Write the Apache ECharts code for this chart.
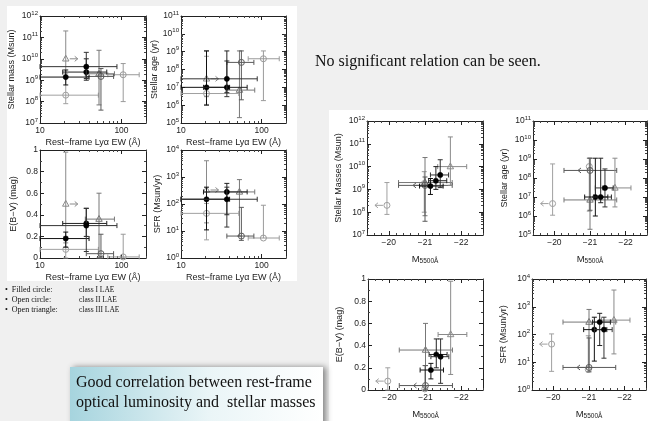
<!DOCTYPE html>
<html><head><meta charset="utf-8">
<script src="https://cdn.jsdelivr.net/npm/echarts@6/dist/echarts.min.js"></script>
<style>html,body{margin:0;padding:0;background:#f0f0f0}#c{width:648px;height:421px}</style>
</head><body><div id="c"></div>
<script>
// ---- objects (drawing order: faint first, filled last) ----
const objNames = ['C1','C3','T2','C2','T1','F1','F2','F3'];
const objClass = ['open','open','tri','open','tri','filled','filled','filled'];
const objColor = ['#a0a0a0','#9a9a9a','#777777','#5a5a5a','#8a8a8a','#111111','#222222','#333333'];

// rest-frame Lya EW (A)
const ewVal = [20.7, 105, 53, 56, 20.7, 20.7, 37, 37];
const ewLo  = [10, 68, 36, 37, null, 10, 19, 10];
const ewHi  = [52, 165, 82, 80, null, 40, 66, 88];
const ewArrow = [0,0,0,0,1,0,0,0];          // lower limit (arrow to the right)

// M5500A
const magVal = [-19.95, -20.98, -21.0, -21.0, -21.7, -21.15, -21.3, -21.42];
const magLo  = [null, null, -20.27, -20.27, -21.35, -20.85, -21.1, -21.15];
const magHi  = [null, null, -21.75, -21.75, -22.15, -21.5, -21.6, -21.65];
const magArrow = [1,0,0,1,0,0,0,0];         // limit (arrow to the left, fainter)

// stellar mass (Msun)
const massVal = [2e8, 1.8e9, 2e9, 1.5e9, 1e10, 1.4e9, 2.4e9, 4.3e9];
const massLo  = [8e7, 1e8, 7e7, 4e7, 1.5e9, 6e8, 1e9, 1.2e9];
const massHi  = [2e9, 6e9, 2.5e10, 3.5e9, 2e11, 3e9, 1e10, 2e10];

// stellar age (yr)
const ageVal = [4.5e6, 4e8, 7e6, 2.5e8, 3e7, 1e7, 1e7, 3e7];
const ageLo  = [1.1e6, 1.8e6, 2e5, 2e6, 3e6, 1e6, 5e6, 3e6];
const ageHi  = [5.5e8, 1.1e9, 1.1e9, 1.1e9, 1.1e9, 1.1e9, 1.1e9, 3e8];

// E(B-V) (mag)
const ebvVal = [0.08, 0.01, 0.36, 0.04, 0.5, 0.18, 0.32, 0.30];
const ebvLo  = [0, 0, 0, 0, 0.14, 0.1, 0.2, 0.06];
const ebvHi  = [0.2, 0.22, 0.6, 0.22, 0.98, 0.24, 0.46, 0.46];

// SFR (Msun/yr)
const sfrVal = [45, 5.5, 280, 6.5, 330, 150, 280, 150];
const sfrLo  = [4.7, null, 6.5, 4.5, 20, 11, 40, 14];
const sfrHi  = [105, 90, 800, 75, 4000, 420, 580, 420];

// axis ticks
const ewTicks = [10, 100];
const ewMinor = [20,30,40,50,60,70,80,90,200];
const magTicks = [-20, -21, -22];
const magMinor = [-19.4,-19.6,-19.8,-20.2,-20.4,-20.6,-20.8,-21.2,-21.4,-21.6,-21.8,-22.2,-22.4,-22.6];
const massTicks = [1e7,1e8,1e9,1e10,1e11,1e12];
const ageTicks = [1e5,1e6,1e7,1e8,1e9,1e10,1e11];
const sfrTicks = [1,10,100,1000,10000];
const ebvTicks = [0,0.2,0.4,0.6,0.8,1];
const ebvMinor = [0.1,0.3,0.5,0.7,0.9];

function logMinor(lo, hi){ const out=[]; for(let e=Math.round(Math.log10(lo)); e<Math.round(Math.log10(hi)); e++){ for(let k=2;k<=9;k++) out.push(k*Math.pow(10,e)); } return out; }

const FONT = 'Liberation Sans';
const powFmt = v => { const e = Math.round(Math.log10(v)); return '{b|10}{s|' + e + '}'; };
const powRich = { b:{fontSize:8.5, fontFamily:FONT, color:'#222'}, s:{fontSize:6, fontFamily:FONT, color:'#222', verticalAlign:'top', padding:[0,0,6,0]} };
const magFmt = v => String(v).replace('-', '\u2212');
const ebvFmt = v => (v===0 ? '0' : v===1 ? '1' : v.toFixed(1));
const magName = '{m|M}{s|5500\u00c5}';
const magNameRich = { m:{fontSize:9.5, fontFamily:FONT, color:'#222'}, s:{fontSize:6.5, fontFamily:FONT, color:'#222', verticalAlign:'bottom', padding:[5,0,0,0]} };

const specs = {
  ew:  {type:'log', min:10, max:200, majors:ewTicks, minors:ewMinor, fmt:v=>String(v), name:'Rest\u2212frame Ly\u03b1 EW (\u00c5)', nameGap:15},
  mag: {type:'value', min:-22.6, max:-19.4, inverse:true, majors:magTicks, minors:magMinor, fmt:magFmt, name:magName, rich:magNameRich, nameGap:18},
  mass:{type:'log', min:1e7, max:1e12, majors:massTicks, minors:logMinor(1e7,1e12), fmt:powFmt, labelRich:powRich},
  age: {type:'log', min:1e5, max:1e11, majors:ageTicks, minors:logMinor(1e5,1e11), fmt:powFmt, labelRich:powRich},
  sfr: {type:'log', min:1, max:1e4, majors:sfrTicks, minors:logMinor(1,1e4), fmt:powFmt, labelRich:powRich},
  ebv: {type:'value', min:0, max:1, majors:ebvTicks, minors:ebvMinor, fmt:ebvFmt}
};

const grids=[], xAxes=[], yAxes=[], series=[];

function axisSet(dim, gi, spec, name, nameGap) {
  const arr = [];
  const positions = dim==='x' ? ['bottom','top'] : ['left','right'];
  positions.forEach((pos, k) => {
    arr.push({
      gridIndex: gi, type: spec.type, position: pos, min: spec.min, max: spec.max, inverse: !!spec.inverse,
      axisLine: {show:true, onZero:false, lineStyle:{color:'#222', width:1}},
      axisTick: {show:true, inside:true, length:4, customValues: spec.majors, lineStyle:{color:'#222', width:1}},
      axisLabel: k===0 ? {show:true, customValues: spec.majors, formatter: spec.fmt, rich: spec.labelRich, fontFamily:FONT, fontSize:8.5, color:'#222', margin: dim==='x'?3:2} : {show:false},
      splitLine: {show:false},
      name: k===0 ? name : '',
      nameLocation: 'middle', nameGap: nameGap, nameRotate: dim==='y' ? 90 : 0,
      nameTextStyle: {fontFamily:FONT, fontSize:9, color:'#222', rich: spec.rich}
    });
    arr.push({
      gridIndex: gi, type: spec.type, position: pos, min: spec.min, max: spec.max, inverse: !!spec.inverse,
      axisLine: {show:false, onZero:false},
      axisTick: {show:true, inside:true, length:2, customValues: spec.minors, lineStyle:{color:'#444', width:1}},
      axisLabel: {show:false}, splitLine: {show:false}
    });
  });
  return arr;
}

function panel(box, xKey, yKey, yName, yGap, xv, xl, xh, yv, yl, yh, arrows, arrowDir) {
  grids.push({left:box[0], top:box[1], width:box[2], height:box[3]});
  const gi = grids.length - 1;
  const xi = xAxes.length, yi = yAxes.length;
  axisSet('x', gi, specs[xKey], specs[xKey].name, specs[xKey].nameGap).forEach(a => xAxes.push(a));
  axisSet('y', gi, specs[yKey], yName, yGap).forEach(a => yAxes.push(a));
  series.push({
    type:'custom', xAxisIndex: xi, yAxisIndex: yi, clip:false, silent:true,
    data: objNames.map((_, i) => [xv[i], yv[i]]),
    renderItem: function(params, api) {
      const i = params.dataIndex;
      const x = xv[i], y = yv[i];
      const p = api.coord([x, y]);
      const col = objColor[i];
      const ls = {stroke: col, lineWidth: 1, fill: null};
      const ch = [];
      const cap = 2.5;
      const seg = (x1,y1,x2,y2) => ch.push({type:'line', shape:{x1,y1,x2,y2}, style:ls});
      if (xl[i] != null) {
        const a = api.coord([xl[i], y]), b = api.coord([xh[i], y]);
        seg(a[0], a[1], b[0], b[1]); seg(a[0], a[1]-cap, a[0], a[1]+cap); seg(b[0], b[1]-cap, b[0], b[1]+cap);
      }
      if (yl[i] != null || yh[i] != null) {
        const a = api.coord([x, yl[i] != null ? yl[i] : y]), b = api.coord([x, yh[i]]);
        seg(a[0], a[1], b[0], b[1]);
        if (yl[i] != null) seg(a[0]-cap, a[1], a[0]+cap, a[1]);
        seg(b[0]-cap, b[1], b[0]+cap, b[1]);
      }
      if (arrows[i]) {
        const d = arrowDir;
        const s0 = p[0] + d*4, s1 = p[0] + d*12;
        seg(s0, p[1], s1, p[1]);
        seg(s1, p[1], s1 - d*3, p[1]-2.5); seg(s1, p[1], s1 - d*3, p[1]+2.5);
      }
      const cls = objClass[i];
      if (cls === 'filled') ch.push({type:'circle', shape:{cx:p[0], cy:p[1], r:2.6}, style:{fill:'#000', stroke:'#000', lineWidth:0.5}});
      else if (cls === 'open') ch.push({type:'circle', shape:{cx:p[0], cy:p[1], r:3}, style:{fill:null, stroke:col, lineWidth:1}});
      else ch.push({type:'polygon', shape:{points:[[p[0],p[1]-3.6],[p[0]+3.2,p[1]+2.2],[p[0]-3.2,p[1]+2.2]]}, style:{fill:null, stroke:col, lineWidth:1}});
      return {type:'group', children: ch};
    }
  });
}

// left block: vs Lya EW
panel([40,16,106,107], 'ew','mass','Stellar mass (Msun)', 24, ewVal,ewLo,ewHi, massVal,massLo,massHi, ewArrow, 1);
panel([181,16,105,107],'ew','age', 'Stellar age (yr)', 18, ewVal,ewLo,ewHi, ageVal,ageLo,ageHi, ewArrow, 1);
panel([40,150,106,108],'ew','ebv','E(B\u2212V) (mag)', 22, ewVal,ewLo,ewHi, ebvVal,ebvLo,ebvHi, ewArrow, 1);
panel([181,150,105,108],'ew','sfr','SFR (Msun/yr)', 18, ewVal,ewLo,ewHi, sfrVal,sfrLo,sfrHi, ewArrow, 1);
// right block: vs M5500
panel([367,121,116,114],'mag','mass','Stellar Masses (Msun)', 24, magVal,magLo,magHi, massVal,massLo,massHi, magArrow, -1);
panel([533,121,114,114],'mag','age', 'Stellar age (yr)', 24, magVal,magLo,magHi, ageVal,ageLo,ageHi, magArrow, -1);
panel([368,279,115,115],'mag','ebv','E(B\u2212V) (mag)', 24, magVal,magLo,magHi, ebvVal,ebvLo,ebvHi, magArrow, -1);
panel([532,279,114,115],'mag','sfr','SFR (Msun/yr)', 24, magVal,magLo,magHi, sfrVal,sfrLo,sfrHi, magArrow, -1);

const graphic = [
  {type:'rect', z:-10, shape:{x:7,y:6,width:290,height:275}, style:{fill:'#fff'}},
  {type:'rect', z:-10, shape:{x:329,y:110,width:319,height:311}, style:{fill:'#fff'}},
  {type:'text', left:315, top:54, style:{text:'No significant relation can be seen.', font:'16px "Liberation Serif"', fill:'#111'}},
  {type:'text', left:5, top:285, style:{text:'\u2022  Filled circle:\n\u2022  Open circle:\n\u2022  Open triangle:', font:'8px "Liberation Serif"', lineHeight:10, fill:'#111'}},
  {type:'text', left:79, top:285, style:{text:'class I LAE\nclass II LAE\nclass III LAE', font:'7.5px "Liberation Serif"', lineHeight:10, fill:'#111'}},
  {type:'rect', z:-5, shape:{x:70,y:367,width:253,height:60}, style:{fill:{type:'linear',x:0,y:0,x2:1,y2:0,colorStops:[{offset:0,color:'#a6d4de'},{offset:0.55,color:'#eaf5f7'},{offset:1,color:'#ffffff'}]}, shadowBlur:6, shadowOffsetX:3, shadowColor:'rgba(0,0,0,0.45)'}},
  {type:'text', left:76, top:373, style:{text:'Good correlation between rest-frame\noptical luminosity and  stellar masses', font:'16px "Liberation Serif"', lineHeight:20, fill:'#111'}}
];

const chart = echarts.init(document.getElementById('c'), null, {renderer:'canvas'});
chart.setOption({
  animation:false, backgroundColor:'#f0f0f0',
  grid: grids, xAxis: xAxes, yAxis: yAxes, series: series, graphic: graphic
});
</script></body></html>
